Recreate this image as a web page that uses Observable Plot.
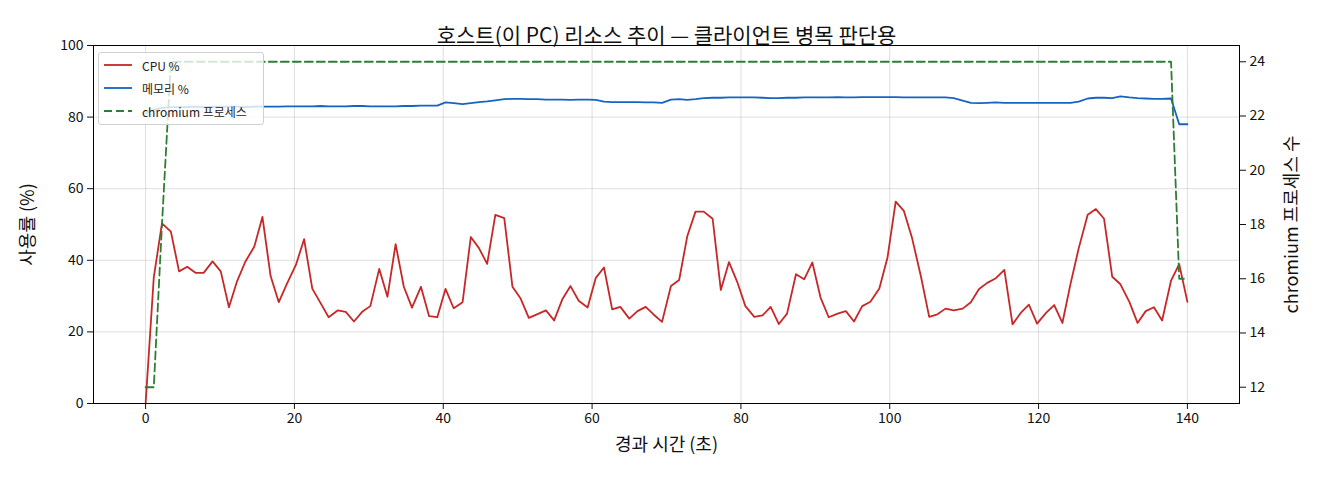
<!DOCTYPE html>
<html>
<head>
<meta charset="utf-8">
<script src="https://cdn.jsdelivr.net/npm/d3@7"></script>
<script src="https://cdn.jsdelivr.net/npm/@observablehq/plot@0.6"></script>
<style>
  html, body { margin: 0; padding: 0; background: white; }
  #wrap { position: relative; width: 1320px; height: 480px; font-family: 'Noto Sans CJK KR', 'Noto Sans', sans-serif; }
  #legend { position: absolute; left: 98px; top: 52px; width: 164px; height: 71px; border: 1px solid #d0d0d0; border-radius: 3px; background: rgba(255,255,255,0.8); font-size: 12px; color: #222; }
  .item { position: absolute; left: 0; height: 16px; display: flex; align-items: center; white-space: nowrap; }
  .item svg { margin-left: 5px; margin-right: 10px; }
</style>
</head>
<body>
<div id="wrap"></div>
<script>
const title = "호스트(이 PC) 리소스 추이 — 클라이언트 병목 판단용";
const xLabel = "경과 시간 (초)";
const yLabel = "사용률 (%)";
const rLabel = "chromium 프로세스 수";
const seriesNames = ["CPU %", "메모리 %", "chromium 프로세스"];
const seriesColors = ["#c62828", "#1565c0", "#2e7d32"];

const xTicks = [0, 20, 40, 60, 80, 100, 120, 140];
const yTicks = [0, 20, 40, 60, 80, 100];
const rTicks = [12, 14, 16, 18, 20, 22, 24];

const times = [0.0,1.1,2.2,3.4,4.5,5.6,6.7,7.8,9.0,10.1,11.2,12.3,13.4,14.6,15.7,16.8,17.9,19.0,20.2,21.3,
22.4,23.5,24.6,25.8,26.9,28.0,29.1,30.2,31.4,32.5,33.6,34.7,35.8,37.0,38.1,39.2,40.3,41.4,42.6,43.7,
44.8,45.9,47.0,48.2,49.3,50.4,51.5,52.6,53.8,54.9,56.0,57.1,58.2,59.4,60.5,61.6,62.7,63.8,65.0,66.1,
67.2,68.3,69.4,70.6,71.7,72.8,73.9,75.0,76.2,77.3,78.4,79.5,80.6,81.8,82.9,84.0,85.1,86.2,87.4,88.5,
89.6,90.7,91.8,93.0,94.1,95.2,96.3,97.4,98.6,99.7,100.8,101.9,103.0,104.2,105.3,106.4,107.5,108.6,109.8,110.9,
112.0,113.1,114.2,115.4,116.5,117.6,118.7,119.8,121.0,122.1,123.2,124.3,125.4,126.6,127.7,128.8,129.9,131.0,132.2,133.3,
134.4,135.5,136.6,137.8,138.9,140.0];

const cpu = [0,35.2,50.3,48.0,36.9,38.2,36.5,36.5,39.7,36.9,26.9,34.2,39.6,43.8,52.1,35.6,28.3,33.5,38.7,45.9,
32.1,28.1,24.1,26.0,25.6,22.9,25.6,27.2,37.6,29.8,44.5,32.6,26.8,32.6,24.4,24.1,32.0,26.6,28.3,46.5,
43.4,39.0,52.7,51.8,32.6,29.3,23.9,24.9,26.0,23.2,29.1,32.8,28.7,26.8,35.1,38.0,26.3,27.0,23.7,25.8,
27.0,24.8,22.8,32.8,34.5,46.8,53.6,53.6,51.6,31.7,39.5,34.0,27.2,24.2,24.6,27.0,22.2,25.1,36.1,34.7,
39.4,29.6,24.1,25.1,25.8,22.9,27.2,28.4,32.1,40.8,56.4,53.8,46.2,35.4,24.2,24.9,26.5,26.0,26.5,28.3,
32.0,33.7,34.9,37.3,22.1,25.3,27.6,22.3,25.3,27.5,22.5,33.5,43.4,52.7,54.3,51.6,35.4,33.3,28.4,22.5,
25.8,26.9,23.2,34.3,38.9,28.4];

const mem = [81.0,82.0,82.6,82.8,82.8,82.8,82.9,82.8,82.9,82.9,82.9,82.9,82.8,82.9,82.9,82.9,82.9,83.0,83.0,83.0,
83.0,83.1,83.0,83.0,83.0,83.1,83.1,83.0,83.0,83.0,83.0,83.1,83.1,83.2,83.2,83.2,84.1,83.9,83.6,83.9,
84.2,84.4,84.7,85.0,85.1,85.1,85.0,85.0,84.9,84.9,84.9,84.8,84.9,84.9,84.8,84.3,84.2,84.2,84.2,84.2,
84.1,84.1,84.0,84.9,85.0,84.8,85.0,85.3,85.4,85.4,85.5,85.5,85.5,85.5,85.4,85.3,85.3,85.4,85.4,85.5,
85.5,85.5,85.5,85.6,85.5,85.5,85.6,85.6,85.6,85.6,85.6,85.5,85.5,85.5,85.5,85.5,85.5,85.3,84.6,84.0,
83.9,84.0,84.1,84.0,84.0,84.0,84.0,84.0,84.0,84.0,84.0,84.0,84.3,85.2,85.4,85.4,85.3,85.8,85.5,85.3,
85.2,85.1,85.1,85.2,78.0,78.0];

const chrom = [12,12,18,24,24,24,24,24,24,24,24,24,24,24,24,24,24,24,24,24,
24,24,24,24,24,24,24,24,24,24,24,24,24,24,24,24,24,24,24,24,
24,24,24,24,24,24,24,24,24,24,24,24,24,24,24,24,24,24,24,24,
24,24,24,24,24,24,24,24,24,24,24,24,24,24,24,24,24,24,24,24,
24,24,24,24,24,24,24,24,24,24,24,24,24,24,24,24,24,24,24,24,
24,24,24,24,24,24,24,24,24,24,24,24,24,24,24,24,24,24,24,24,
24,24,24,24,16,16];

// right axis domain mapped onto left scale
const R0 = 11.4, R1 = 24.6;
const toLeft = c => (c - R0) / (R1 - R0) * 100;
const fromLeft = v => R0 + v / 100 * (R1 - R0);

const rows = times.map((t, i) => ({t, cpu: cpu[i], mem: mem[i], chrom: chrom[i]}));

const chart = Plot.plot({
  width: 1320,
  height: 480,
  marginLeft: 93,
  marginRight: 81,
  marginTop: 45,
  marginBottom: 77,
  x: {domain: [-7, 147]},
  y: {domain: [0, 100]},
  style: {fontFamily: "'Noto Sans CJK KR', 'Noto Sans', sans-serif", fontSize: "14px", color: "#111", background: "white"},
  marks: [
    Plot.gridX(xTicks, {stroke: "#b0b0b0", strokeOpacity: 0.4, strokeWidth: 1}),
    Plot.gridY(yTicks, {stroke: "#b0b0b0", strokeOpacity: 0.4, strokeWidth: 1}),
    Plot.line(rows, {x: "t", y: "cpu", stroke: seriesColors[0], strokeWidth: 1.8}),
    Plot.line(rows, {x: "t", y: "mem", stroke: seriesColors[1], strokeWidth: 1.8}),
    Plot.line(rows, {x: "t", y: d => toLeft(d.chrom), stroke: seriesColors[2], strokeWidth: 1.8, strokeDasharray: "8,4"}),
    Plot.frame({stroke: "black", strokeWidth: 1}),
    Plot.axisX({ticks: xTicks, tickSize: 6, tickPadding: 4, label: null}),
    Plot.axisY({ticks: yTicks, tickSize: 6, tickPadding: 4, label: null}),
    Plot.axisY({anchor: "right", ticks: rTicks.map(toLeft), tickSize: 6, tickPadding: 4,
      tickFormat: v => String(Math.round(fromLeft(v))), label: null}),
    Plot.text([title], {frameAnchor: "top", dy: -17, text: d => d, fontSize: 21, fill: "#111", textAnchor: "middle"}),
    Plot.text([xLabel], {frameAnchor: "bottom", dy: 47, text: d => d, fontSize: 18, fill: "#111", textAnchor: "middle"}),
    Plot.text([yLabel], {frameAnchor: "left", dx: -65, rotate: -90, text: d => d, fontSize: 18, fill: "#111", textAnchor: "middle"}),
    Plot.text([rLabel], {frameAnchor: "right", dx: 53, rotate: -90, text: d => d, fontSize: 18, fill: "#111", textAnchor: "middle"})
  ]
});

const wrap = document.getElementById("wrap");
wrap.appendChild(chart);

const legend = document.createElement("div");
legend.id = "legend";
seriesNames.forEach((name, i) => {
  const item = document.createElement("div");
  item.className = "item";
  item.style.top = (4 + i * 23) + "px";
  const dash = i === 2 ? ' stroke-dasharray="8,4"' : '';
  item.innerHTML = `<svg width="28" height="6"><line x1="0" y1="3" x2="28" y2="3" stroke="${seriesColors[i]}" stroke-width="1.8"${dash}/></svg><span>${name}</span>`;
  legend.appendChild(item);
});
wrap.appendChild(legend);
</script>
</body>
</html>
